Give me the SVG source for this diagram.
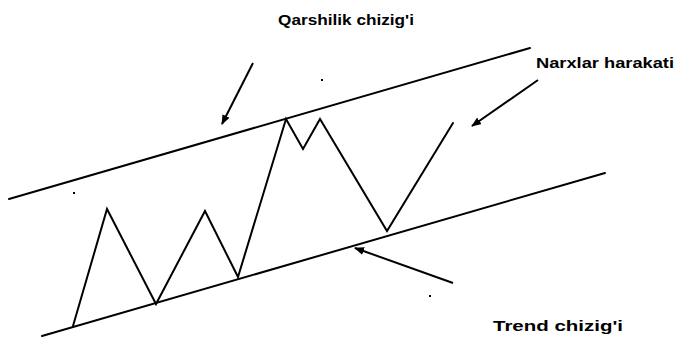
<svg xmlns="http://www.w3.org/2000/svg" width="678" height="337" viewBox="0 0 678 337">
<style>
.ln{fill:none;stroke:#000;stroke-width:2;stroke-linecap:round;stroke-linejoin:miter}
.ar{fill:none;stroke:#000;stroke-width:2;marker-end:url(#ah)}
.lb{font-family:"Liberation Sans",Arial,sans-serif;font-weight:bold;font-size:15px;fill:#000}
</style>
<defs>
<marker id="ah" markerWidth="10" markerHeight="8" refX="9" refY="4" orient="auto" markerUnits="userSpaceOnUse"><path d="M0,0 L10,4 L0,8 Z" fill="#000"/></marker>
</defs>
<rect width="678" height="337" fill="#fff"/>
<g id="resistance-line"><line class="ln" x1="9" y1="199" x2="530" y2="48"/></g>
<g id="trend-line"><line class="ln" x1="42" y1="336" x2="605" y2="173"/></g>
<g id="price-movement"><polyline class="ln" points="73,326 107,209 156,304 205,211 238,277 286,119 303,149 320,119 387,231 453,123"/></g>
<g id="label-qarshilik"><text class="lb" x="278" y="25" textLength="136" lengthAdjust="spacingAndGlyphs">Qarshilik chizig'i</text></g>
<g id="label-narxlar"><text class="lb" x="536" y="68" textLength="138" lengthAdjust="spacingAndGlyphs">Narxlar harakati</text></g>
<g id="label-trend"><text class="lb" x="493" y="331" textLength="130" lengthAdjust="spacingAndGlyphs">Trend chizig'i</text></g>
<g id="connectors">
<line class="ar" x1="253" y1="63" x2="222" y2="124"/>
<line class="ar" x1="538" y1="80" x2="472" y2="126"/>
<line class="ar" x1="453" y1="283" x2="355" y2="248"/>
</g>
<g id="specks" fill="#000">
<rect x="73" y="192" width="2" height="2"/>
<rect x="321" y="79" width="2" height="2"/>
<rect x="429" y="295" width="2" height="2"/>
</g>
</svg>
